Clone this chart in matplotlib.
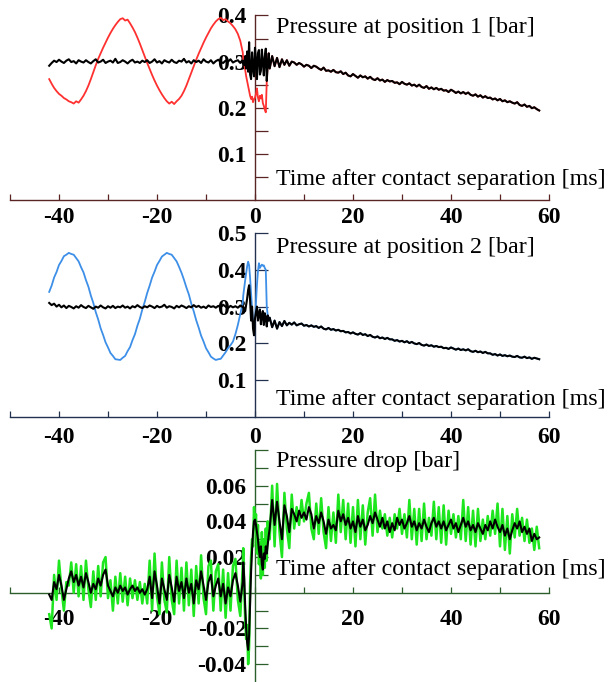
import matplotlib.pyplot as plt
import numpy as np

# sampling grids (ms): pre-contact, around separation, after separation
pre_start, pre_step = -42.0, 0.5
mid_start, mid_step = -2.4, 0.2
post_start, post_step = 3.0, 0.5

# ---- position 1 ----
red1_pre = [
    0.262, 0.252, 0.243, 0.236, 0.230, 0.226, 0.221, 0.218, 0.214, 0.212,
    0.209, 0.214, 0.211, 0.218, 0.226, 0.236, 0.248, 0.262, 0.277, 0.292,
    0.306, 0.318, 0.330, 0.341, 0.352, 0.362, 0.371, 0.379, 0.386, 0.392,
    0.394, 0.389, 0.391, 0.383, 0.374, 0.364, 0.352, 0.339, 0.325, 0.311,
    0.297, 0.284, 0.271, 0.259, 0.248, 0.238, 0.229, 0.221, 0.214, 0.209,
    0.213, 0.208, 0.214, 0.219, 0.226, 0.236, 0.248, 0.262, 0.276, 0.290,
    0.304, 0.317, 0.329, 0.341, 0.352, 0.362, 0.372, 0.380, 0.387, 0.392,
    0.395, 0.390, 0.392, 0.387, 0.383, 0.377, 0.370, 0.360, 0.345, 0.320]
red1_mid = [
    0.305, 0.296, 0.282, 0.268, 0.258, 0.247, 0.236, 0.226, 0.219, 0.224,
    0.212, 0.218, 0.222, 0.230, 0.242, 0.222, 0.214, 0.226, 0.220, 0.228,
    0.210, 0.204, 0.196, 0.190, 0.258, 0.295, 0.318]
black1_pre = [
    0.291, 0.297, 0.302, 0.299, 0.304, 0.300, 0.297, 0.302, 0.305, 0.299,
    0.301, 0.296, 0.303, 0.300, 0.298, 0.303, 0.299, 0.296, 0.301, 0.305,
    0.298, 0.300, 0.304, 0.297, 0.300, 0.302, 0.298, 0.306, 0.297, 0.299,
    0.303, 0.300, 0.296, 0.301, 0.304, 0.298, 0.300, 0.297, 0.302, 0.299,
    0.303, 0.297, 0.300, 0.305, 0.298, 0.301, 0.296, 0.303, 0.300, 0.298,
    0.304, 0.299, 0.297, 0.302, 0.300, 0.306, 0.298, 0.301, 0.296, 0.303,
    0.299, 0.302, 0.297, 0.305, 0.300, 0.298, 0.303, 0.296, 0.301, 0.304,
    0.299, 0.297, 0.302, 0.300, 0.305, 0.298, 0.301, 0.303, 0.297, 0.302]
black1_mid = [
    0.300, 0.292, 0.312, 0.285, 0.322, 0.278, 0.342, 0.272, 0.262, 0.320,
    0.285, 0.268, 0.330, 0.300, 0.262, 0.318, 0.325, 0.272, 0.280, 0.326,
    0.300, 0.270, 0.310, 0.328, 0.258, 0.295, 0.318]
black1_post = [
    0.285, 0.312, 0.290, 0.308, 0.288, 0.305, 0.293, 0.303, 0.291, 0.300,
    0.298, 0.293, 0.297, 0.294, 0.289, 0.293, 0.291, 0.286, 0.291, 0.289,
    0.285, 0.282, 0.287, 0.280, 0.281, 0.278, 0.282, 0.277, 0.276, 0.279,
    0.273, 0.276, 0.270, 0.268, 0.273, 0.269, 0.265, 0.270, 0.266, 0.268,
    0.263, 0.267, 0.262, 0.260, 0.264, 0.259, 0.261, 0.256, 0.260, 0.257,
    0.258, 0.254, 0.255, 0.251, 0.256, 0.252, 0.250, 0.253, 0.248, 0.250,
    0.246, 0.250, 0.245, 0.243, 0.247, 0.241, 0.244, 0.240, 0.243, 0.239,
    0.241, 0.237, 0.238, 0.234, 0.239, 0.236, 0.232, 0.235, 0.231, 0.234,
    0.230, 0.233, 0.228, 0.226, 0.229, 0.224, 0.227, 0.222, 0.225, 0.221,
    0.222, 0.218, 0.220, 0.216, 0.219, 0.214, 0.216, 0.212, 0.214, 0.211,
    0.209, 0.212, 0.206, 0.204, 0.207, 0.202, 0.204, 0.199, 0.201, 0.197,
    0.194]

# ---- position 2 ----
blue2_pre = [
    0.340, 0.357, 0.379, 0.394, 0.413, 0.424, 0.437, 0.441, 0.446, 0.443,
    0.441, 0.432, 0.423, 0.407, 0.393, 0.372, 0.354, 0.330, 0.310, 0.285,
    0.265, 0.241, 0.223, 0.203, 0.189, 0.174, 0.166, 0.157, 0.156, 0.155,
    0.161, 0.166, 0.179, 0.190, 0.209, 0.225, 0.248, 0.267, 0.292, 0.313,
    0.337, 0.357, 0.379, 0.395, 0.413, 0.424, 0.436, 0.441, 0.446, 0.443,
    0.441, 0.432, 0.423, 0.408, 0.392, 0.373, 0.352, 0.333, 0.308, 0.287,
    0.263, 0.243, 0.221, 0.205, 0.187, 0.176, 0.164, 0.159, 0.155, 0.157,
    0.158, 0.167, 0.176, 0.187, 0.195, 0.205, 0.225, 0.250, 0.280, 0.310]
blue2_mid = [
    0.330, 0.352, 0.372, 0.392, 0.410, 0.422, 0.412, 0.378, 0.335, 0.295,
    0.262, 0.245, 0.262, 0.310, 0.360, 0.395, 0.418, 0.405, 0.410, 0.414,
    0.411, 0.412, 0.405, 0.400, 0.300, 0.276, 0.262]
black2_pre = [
    0.310, 0.304, 0.308, 0.300, 0.305, 0.298, 0.303, 0.296, 0.302, 0.299,
    0.295, 0.301, 0.297, 0.304, 0.299, 0.296, 0.302, 0.298, 0.294, 0.300,
    0.297, 0.303, 0.298, 0.295, 0.301, 0.297, 0.302, 0.296, 0.300, 0.298,
    0.303, 0.297, 0.300, 0.295, 0.301, 0.298, 0.304, 0.299, 0.296, 0.301,
    0.298, 0.303, 0.300, 0.296, 0.302, 0.298, 0.300, 0.305, 0.297, 0.301,
    0.299, 0.295, 0.302, 0.298, 0.303, 0.300, 0.296, 0.301, 0.298, 0.304,
    0.299, 0.302, 0.297, 0.300, 0.296, 0.303, 0.299, 0.301, 0.297, 0.302,
    0.298, 0.305, 0.300, 0.296, 0.302, 0.298, 0.301, 0.297, 0.303, 0.299]
black2_mid = [
    0.300, 0.292, 0.288, 0.305, 0.322, 0.345, 0.358, 0.318, 0.262, 0.300,
    0.240, 0.222, 0.268, 0.285, 0.300, 0.262, 0.280, 0.292, 0.252, 0.275,
    0.288, 0.250, 0.282, 0.268, 0.246, 0.276, 0.262]
black2_post = [
    0.270, 0.244, 0.262, 0.240, 0.258, 0.247, 0.261, 0.249, 0.256, 0.251,
    0.257, 0.249, 0.252, 0.254, 0.248, 0.250, 0.246, 0.249, 0.245, 0.247,
    0.242, 0.246, 0.240, 0.238, 0.242, 0.237, 0.239, 0.235, 0.237, 0.233,
    0.234, 0.230, 0.231, 0.227, 0.230, 0.226, 0.224, 0.228, 0.223, 0.225,
    0.220, 0.223, 0.218, 0.216, 0.219, 0.214, 0.216, 0.212, 0.215, 0.211,
    0.211, 0.207, 0.209, 0.205, 0.207, 0.203, 0.206, 0.201, 0.204, 0.200,
    0.198, 0.201, 0.196, 0.194, 0.197, 0.193, 0.195, 0.191, 0.193, 0.190,
    0.191, 0.187, 0.188, 0.185, 0.189, 0.186, 0.183, 0.186, 0.182, 0.184,
    0.181, 0.184, 0.179, 0.177, 0.180, 0.176, 0.178, 0.174, 0.177, 0.173,
    0.173, 0.169, 0.171, 0.167, 0.170, 0.166, 0.168, 0.165, 0.167, 0.164,
    0.163, 0.166, 0.162, 0.161, 0.164, 0.160, 0.162, 0.158, 0.161, 0.159,
    0.157]

# ---- pressure drop ----
green3_pre = [
    -0.012, -0.020, 0.010, -0.004, 0.018, 0.002, -0.010, 0.006, 0.004, 0.017,
    0.000, 0.016, -0.002, 0.015, -0.004, 0.018, 0.002, -0.008, 0.012, -0.004,
    0.015, -0.002, 0.017, 0.020, -0.003, 0.007, -0.010, 0.009, -0.006, 0.011,
    -0.005, 0.009, -0.007, 0.008, -0.003, 0.007, -0.004, 0.006, -0.006, 0.005,
    -0.006, 0.018, -0.010, 0.022, -0.002, -0.012, 0.017, -0.004, -0.011, 0.020,
    -0.004, -0.012, 0.018, -0.006, 0.014, -0.010, 0.017, -0.007, 0.013, -0.013,
    0.015, -0.006, 0.021, -0.003, -0.012, 0.015, 0.018, -0.010, 0.012, 0.016,
    -0.010, 0.013, -0.014, 0.011, -0.010, 0.015, 0.019, -0.004, -0.013, 0.015]
green3_mid = [
    0.025, 0.002, -0.015, -0.026, -0.018, -0.040, -0.030, 0.005, 0.020, 0.030,
    0.026, 0.048, 0.036, 0.044, 0.022, 0.038, 0.016, 0.028, 0.008, 0.034,
    0.010, 0.030, 0.014, 0.036, 0.018, 0.040, 0.030]
green3_post = [
    0.030, 0.060, 0.026, 0.061, 0.034, 0.020, 0.056, 0.036, 0.025, 0.055,
    0.036, 0.048, 0.038, 0.052, 0.040, 0.050, 0.056, 0.036, 0.030, 0.050,
    0.033, 0.053, 0.034, 0.025, 0.048, 0.029, 0.045, 0.028, 0.055, 0.034,
    0.052, 0.030, 0.050, 0.028, 0.048, 0.026, 0.052, 0.030, 0.049, 0.027,
    0.045, 0.053, 0.032, 0.055, 0.034, 0.046, 0.036, 0.044, 0.032, 0.042,
    0.031, 0.044, 0.036, 0.047, 0.033, 0.044, 0.031, 0.052, 0.030, 0.047,
    0.027, 0.047, 0.029, 0.050, 0.030, 0.042, 0.032, 0.051, 0.030, 0.048,
    0.028, 0.049, 0.027, 0.046, 0.033, 0.044, 0.031, 0.043, 0.030, 0.052,
    0.029, 0.048, 0.027, 0.046, 0.026, 0.047, 0.029, 0.041, 0.030, 0.043,
    0.032, 0.046, 0.033, 0.050, 0.026, 0.047, 0.024, 0.043, 0.022, 0.044,
    0.031, 0.047, 0.032, 0.042, 0.029, 0.041, 0.028, 0.036, 0.024, 0.037,
    0.025]
black3_pre = [
    -0.001, -0.004, 0.006, 0.002, 0.010, 0.004, -0.004, 0.002, 0.008, 0.012,
    0.006, 0.010, 0.004, 0.009, 0.003, 0.011, 0.006, 0.000, 0.005, 0.002,
    0.008, 0.004, 0.010, 0.013, 0.004, 0.001, -0.002, 0.003, 0.000, 0.004,
    0.001, 0.003, -0.001, 0.002, 0.004, 0.001, 0.003, 0.000, 0.002, -0.001,
    0.002, 0.009, -0.003, 0.012, 0.004, -0.006, 0.008, 0.002, -0.004, 0.010,
    0.003, -0.005, 0.009, 0.001, 0.006, -0.003, 0.008, 0.000, 0.005, -0.006,
    0.007, 0.002, 0.012, 0.004, -0.004, 0.006, 0.010, -0.002, 0.004, 0.008,
    -0.002, 0.005, -0.006, 0.003, -0.002, 0.007, 0.011, 0.004, -0.005, 0.006]
black3_mid = [
    0.017, 0.008, -0.008, -0.020, -0.028, -0.032, -0.024, -0.005, 0.012, 0.024,
    0.034, 0.040, 0.041, 0.038, 0.034, 0.030, 0.024, 0.020, 0.026, 0.016,
    0.013, 0.022, 0.019, 0.026, 0.022, 0.027, 0.032]
black3_post = [
    0.036, 0.052, 0.038, 0.051, 0.040, 0.030, 0.049, 0.043, 0.034, 0.047,
    0.044, 0.040, 0.046, 0.042, 0.045, 0.041, 0.048, 0.044, 0.036, 0.043,
    0.039, 0.045, 0.040, 0.033, 0.041, 0.036, 0.038, 0.035, 0.046, 0.040,
    0.044, 0.038, 0.042, 0.036, 0.040, 0.034, 0.043, 0.037, 0.041, 0.035,
    0.038, 0.043, 0.039, 0.045, 0.041, 0.037, 0.042, 0.036, 0.040, 0.034,
    0.039, 0.035, 0.042, 0.038, 0.041, 0.036, 0.039, 0.043, 0.037, 0.040,
    0.035, 0.039, 0.036, 0.041, 0.037, 0.034, 0.039, 0.042, 0.037, 0.040,
    0.036, 0.040, 0.035, 0.038, 0.041, 0.036, 0.039, 0.034, 0.038, 0.042,
    0.037, 0.040, 0.035, 0.038, 0.034, 0.039, 0.036, 0.033, 0.038, 0.035,
    0.040, 0.036, 0.041, 0.037, 0.034, 0.038, 0.032, 0.036, 0.030, 0.035,
    0.039, 0.036, 0.040, 0.034, 0.037, 0.033, 0.036, 0.029, 0.033, 0.030,
    0.031]

# ticks
x_ticks = [-50, -40, -30, -20, -10, 0, 10, 20, 30, 40, 50, 60]
x_labels = ['', '-40', '', '-20', '', '0', '', '20', '', '40', '', '60']
x_labels3 = ['', '-40', '', '-20', '', '', '', '20', '', '40', '', '60']
y1_ticks = [0.05, 0.10, 0.15, 0.20, 0.25, 0.30, 0.35, 0.40]
y1_labels = ['', '0.1', '', '0.2', '', '0.3', '', '0.4']
y2_ticks = [0.1, 0.2, 0.3, 0.4, 0.5]
y2_labels = ['0.1', '0.2', '0.3', '0.4', '0.5']
y3_ticks = [-0.04, -0.03, -0.02, -0.01, 0.01, 0.02, 0.03, 0.04, 0.05, 0.06, 0.07, 0.08]
y3_labels = ['-0.04', '', '-0.02', '', '', '0.02', '', '0.04', '', '0.06', '', '']

x_label = 'Time after contact separation [ms]'


def series(pre, mid, post=None):
    t = list(pre_start + pre_step * np.arange(len(pre)))
    t += list(mid_start + mid_step * np.arange(len(mid)))
    y = list(pre) + list(mid)
    if post is not None:
        t += list(post_start + post_step * np.arange(len(post)))
        y += list(post)
    return np.array(t), np.array(y)


serif = 'Liberation Serif'
W, H = 608, 682
fig = plt.figure(figsize=(W / 100, H / 100), dpi=100)


def make_axes(top, bottom, ylim, axcol, xpad):
    ax = fig.add_axes([10 / W, 1 - bottom / H, 539 / W, (bottom - top) / H])
    ax.set_xlim(-50, 60)
    ax.set_ylim(*ylim)
    ax.patch.set_visible(False)
    for s in ['top', 'right']:
        ax.spines[s].set_visible(False)
    ax.spines['left'].set_position(('data', 0))
    ax.spines['bottom'].set_position(('data', 0))
    for s in ['left', 'bottom']:
        ax.spines[s].set_color(axcol)
        ax.spines[s].set_linewidth(1.0)
    ax.tick_params(axis='y', direction='in', length=9, width=0.9, color=axcol, pad=6)
    ax.tick_params(axis='x', direction='in', length=4, width=0.9, color=axcol, pad=xpad)
    return ax


def style_labels(ax):
    for lab in ax.get_xticklabels() + ax.get_yticklabels():
        lab.set_fontfamily(serif)
        lab.set_fontsize(17)
        lab.set_fontweight('bold')


# panel 1
ax1 = make_axes(15, 200, (0, 0.401), '#5a2424', 5)
t, y = series(red1_pre, red1_mid, black1_post)
ax1.plot(t, y, color='#ff3030', lw=1.3, zorder=3, clip_on=False)
t, y = series(black1_pre, black1_mid, black1_post)
ax1.plot(t, y, color='black', lw=1.5, zorder=4, clip_on=False)
ax1.set_xticks(x_ticks, x_labels)
ax1.set_yticks(y1_ticks, y1_labels)
style_labels(ax1)

# panel 2
ax2 = make_axes(233, 417, (0, 0.5), '#22314f', 7)
t, y = series(blue2_pre, blue2_mid, black2_post)
ax2.plot(t, y, color='#3d8fe8', lw=1.3, zorder=3, clip_on=False)
t, y = series(black2_pre, black2_mid, black2_post)
ax2.plot(t, y, color='black', lw=1.5, zorder=4, clip_on=False)
ax2.set_xticks(x_ticks, x_labels)
ax2.set_yticks(y2_ticks, y2_labels)
style_labels(ax2)

# panel 3
ax3 = make_axes(450, 682, (-0.05, 0.08), '#2c5e2c', 12)
t, y = series(green3_pre, green3_mid, green3_post)
ax3.plot(t, y, color='#1ee61e', lw=1.8, zorder=3, clip_on=False)
t, y = series(black3_pre, black3_mid, black3_post)
ax3.plot(t, y, color='black', lw=1.5, zorder=4, clip_on=False)
ax3.set_xticks(x_ticks, x_labels3)
ax3.set_yticks(y3_ticks, y3_labels)
style_labels(ax3)

# axis captions
captions = [(27, 'Pressure at position 1 [bar]'), (180, x_label),
            (248, 'Pressure at position 2 [bar]'), (400, x_label),
            (462, 'Pressure drop [bar]'), (570, x_label)]
for ypix, txt in captions:
    fig.text(276 / W, 1 - ypix / H, txt, family=serif, fontsize=17.3,
             va='center', ha='left', color='black')

fig.savefig('out.png', dpi=100)
